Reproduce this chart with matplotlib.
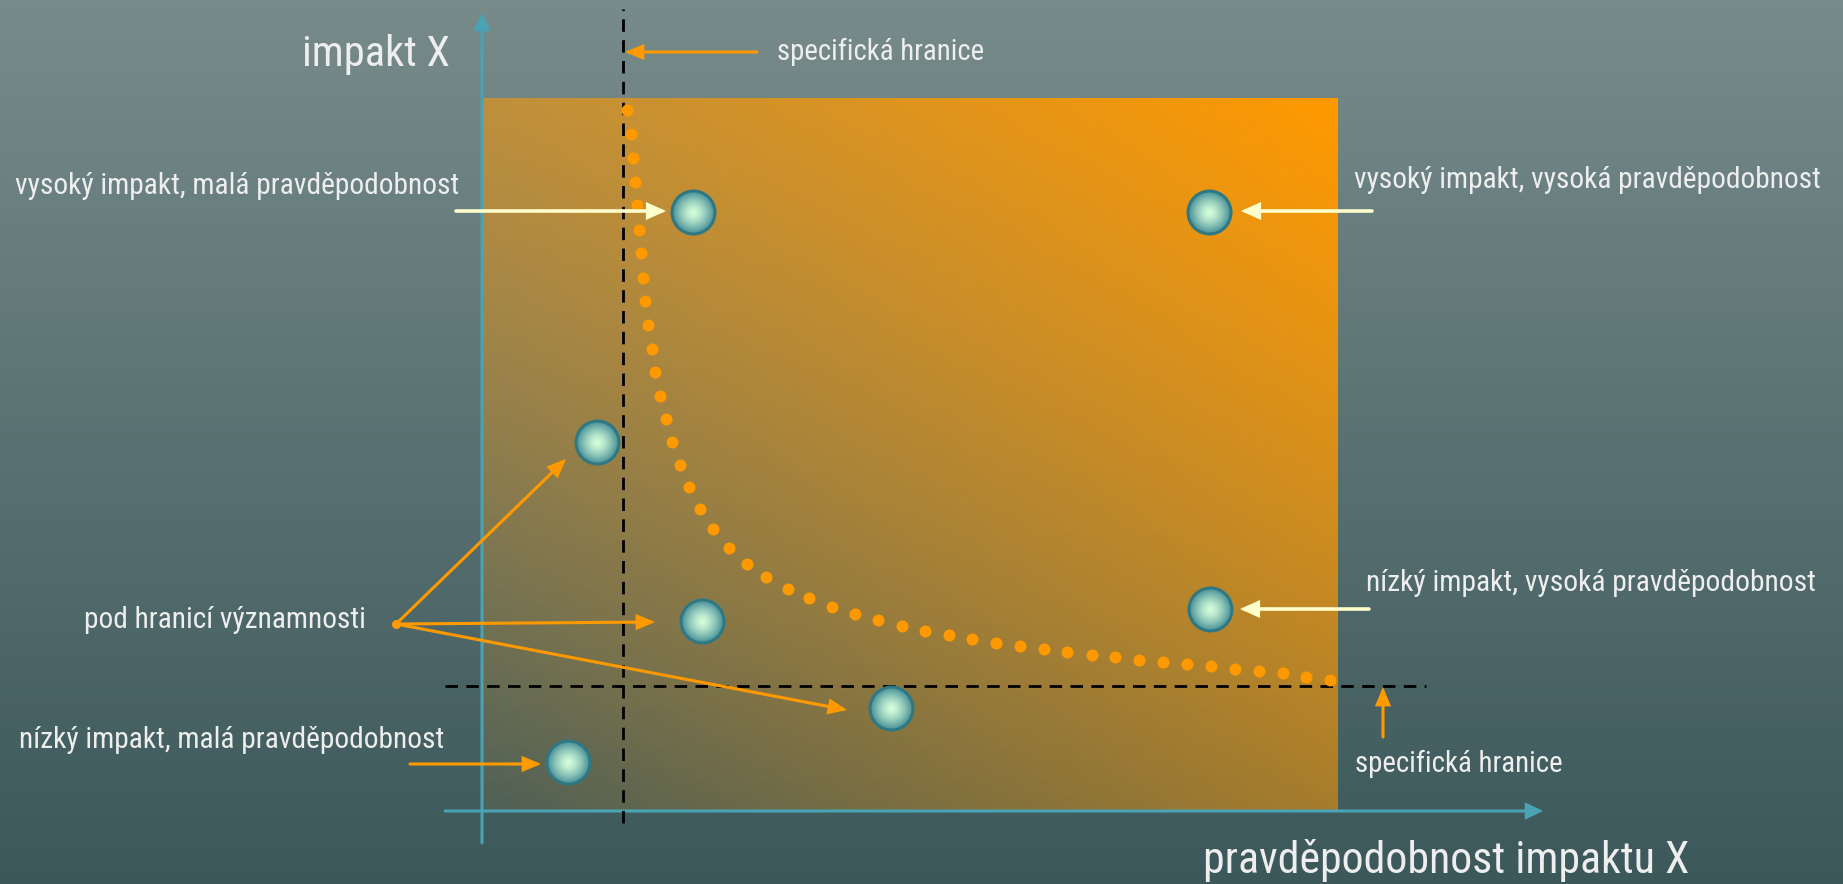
import numpy as np
import matplotlib
matplotlib.use("Agg")
import matplotlib.pyplot as plt
from matplotlib import font_manager

# ---------------- data (box units: probability 0..1 horizontally, impact 0..1 vertically)
bubble_x = [0.247, 0.849, 0.134, 0.257, 0.850, 0.478, 0.101]
bubble_y = [0.840, 0.840, 0.517, 0.265, 0.282, 0.143, 0.068]

curve_x = [0.169, 0.174, 0.176, 0.179, 0.181, 0.183, 0.186, 0.188, 0.190, 0.194,
           0.199, 0.202, 0.208, 0.215, 0.222, 0.231, 0.242, 0.255, 0.270, 0.289,
           0.310, 0.332, 0.358, 0.382, 0.409, 0.436, 0.463, 0.491, 0.518, 0.546,
           0.572, 0.601, 0.629, 0.657, 0.683, 0.713, 0.740, 0.768, 0.796, 0.824,
           0.852, 0.880, 0.908, 0.936, 0.963, 0.991]
curve_y = [0.983, 0.949, 0.916, 0.882, 0.850, 0.815, 0.782, 0.747, 0.715, 0.681,
           0.648, 0.615, 0.582, 0.549, 0.517, 0.485, 0.454, 0.423, 0.395, 0.368,
           0.346, 0.327, 0.310, 0.298, 0.285, 0.275, 0.267, 0.258, 0.251, 0.246,
           0.240, 0.235, 0.230, 0.226, 0.222, 0.218, 0.215, 0.211, 0.208, 0.205,
           0.202, 0.198, 0.195, 0.192, 0.187, 0.183]

threshold_prob = 0.165
threshold_impact = 0.174

title_y = "impakt X"
title_x = "pravděpodobnost impaktu X"
lbl_boundary = "specifická hranice"
lbl_hi_lo = "vysoký impakt, malá pravděpodobnost"
lbl_hi_hi = "vysoký impakt, vysoká pravděpodobnost"
lbl_below = "pod hranicí významnosti"
lbl_lo_lo = "nízký impakt, malá pravděpodobnost"
lbl_lo_hi = "nízký impakt, vysoká pravděpodobnost"

# ---------------- layout helpers (pixel positions of the box in the 1843x884 picture)
W, H = 1843, 884
BX0, BX1, BY0, BY1 = 482, 1338, 810, 98


def P(px, py):
    return ((px - BX0) / (BX1 - BX0), (BY0 - py) / (BY0 - BY1))


names = {f.name for f in font_manager.fontManager.ttflist}
FONT = "Liberation Sans"
for cand in ["Liberation Sans Narrow", "Arial Narrow", "Roboto Condensed", "Pragati Narrow",
             "Archivo Narrow", "PT Sans Narrow", "Fira Sans Condensed", "Open Sans Condensed"]:
    if cand in names:
        FONT = cand
        break
plt.rcParams["font.family"] = [FONT, "Liberation Sans", "DejaVu Sans"]

fig = plt.figure(figsize=(W / 100, H / 100), dpi=100)
ax = fig.add_axes([0, 0, 1, 1])
xl0, yl0 = P(0, H)
xl1, yl1 = P(W, 0)

# background vertical gradient
t = np.linspace(0, 1, 256)[:, None]
c_top = np.array([120, 139, 139]) / 255
c_bot = np.array([60, 88, 90]) / 255
bg = (c_top[None, None, :] * (1 - t[..., None]) + c_bot[None, None, :] * t[..., None])
bg = np.repeat(bg, 2, axis=1)
ax.imshow(bg, extent=[xl0, xl1, yl0, yl1], origin="upper", aspect="auto", zorder=0)

# orange box with diagonal transparency gradient
nx, ny = 300, 250
u = np.linspace(0, 1, nx)[None, :]
v = np.linspace(0, 1, ny)[:, None]
alpha = np.clip(0.08 + 0.46 * u + 0.47 * v, 0, 1)
rgba = np.zeros((ny, nx, 4))
rgba[..., 0] = 1.0
rgba[..., 1] = 0.6
rgba[..., 2] = 0.0
rgba[..., 3] = alpha
ax.imshow(rgba, extent=[0, 1, 0, 1], origin="lower", aspect="auto", zorder=1)

ax.set_xlim(xl0, xl1)
ax.set_ylim(yl0, yl1)
ax.axis("off")

AX_C = "#4aa3b4"


def arrow(p0, p1, color, lw, hl, hw, z=5):
    ax.annotate("", xy=P(*p1), xytext=P(*p0),
                arrowprops=dict(arrowstyle=f"-|>,head_length={hl},head_width={hw}",
                                color=color, lw=lw, shrinkA=0, shrinkB=0,
                                mutation_scale=1, joinstyle="miter"),
                zorder=z)


# axes with arrow heads
arrow((482, 843), (482, 13), AX_C, 2.2, 9.5, 4.6, z=2)
arrow((445, 811), (1543, 811), AX_C, 2.2, 9.5, 4.6, z=2)

# threshold lines
ax.plot([threshold_prob, threshold_prob], [P(0, 823)[1], P(0, 9)[1]],
        color="black", lw=2, ls=(0, (4.5, 3)), zorder=3)
ax.plot([P(445, 0)[0], P(1426, 0)[0]], [threshold_impact, threshold_impact],
        color="black", lw=2, ls=(0, (4.5, 3)), zorder=3)

# dotted curve
ax.scatter(curve_x, curve_y, s=(12 * 0.72) ** 2, color="#ff9900", linewidths=0, zorder=4)

# bubbles: concentric layers for radial shading
ax.scatter(bubble_x, bubble_y, s=(46 * 0.72) ** 2, color="#2e7884", linewidths=0, zorder=6)
edge = np.array([0.33, 0.60, 0.62])
center = np.array([0.84, 1.0, 0.86])
R0 = 20.0
for r in np.linspace(R0, 1.0, 24):
    k = (r / R0) ** 1.4
    col = center + (edge - center) * k
    ax.scatter(bubble_x, bubble_y, s=(2 * r * 0.72) ** 2, color=col, linewidths=0, zorder=7)

# arrows
CREAM = "#ffffcc"
ORANGE = "#ff9900"
arrow((456, 211), (666, 211), CREAM, 2.6, 10, 4.5, z=8)
arrow((1372, 211), (1241, 211), CREAM, 2.6, 10, 4.5, z=8)
arrow((1369, 609), (1240, 609), CREAM, 2.6, 10, 4.5, z=8)

arrow((757, 52), (625, 52), ORANGE, 2.2, 10, 4.2)
arrow((396, 624), (566, 459), ORANGE, 2.2, 10, 4.2)
arrow((396, 624), (655, 622), ORANGE, 2.2, 10, 4.2)
arrow((396, 624), (847, 710), ORANGE, 2.2, 10, 4.2)
arrow((410, 764), (541, 764), ORANGE, 2.2, 10, 4.2)
arrow((1383, 737), (1383, 687), ORANGE, 2.2, 10, 4.2)
ax.scatter(*P(396, 624), s=(9 * 0.72) ** 2, color=ORANGE, linewidths=0, zorder=6)

# texts: (text, anchor x px, baseline y px, ha, base size, target width px)
TXT = "#eeeeee"
specs = [
    (title_y, 450, 66, "right", 33, 148),
    (title_x, 1203, 873, "left", 33, 487),
    (lbl_boundary, 777, 60, "left", 23, 207),
    (lbl_hi_lo, 15, 194, "left", 23, 447),
    (lbl_hi_hi, 1354, 188, "left", 23, 469),
    (lbl_below, 84, 628, "left", 23, 283),
    (lbl_lo_lo, 19, 748, "left", 23, 429),
    (lbl_lo_hi, 1366, 591, "left", 23, 453),
    (lbl_boundary, 1355, 772, "left", 23, 208),
]
texts = []
for s, x, y, ha, fs, tw in specs:
    texts.append(ax.text(*P(x, y), s, fontsize=fs, color=TXT, ha=ha, va="baseline", zorder=9))

fig.canvas.draw()
rend = fig.canvas.get_renderer()
for tx, (s, x, y, ha, fs, tw) in zip(texts, specs):
    w = tx.get_window_extent(rend).width
    if w > 0:
        tx.set_fontsize(fs * tw / w)

fig.savefig("out.png", dpi=100)
